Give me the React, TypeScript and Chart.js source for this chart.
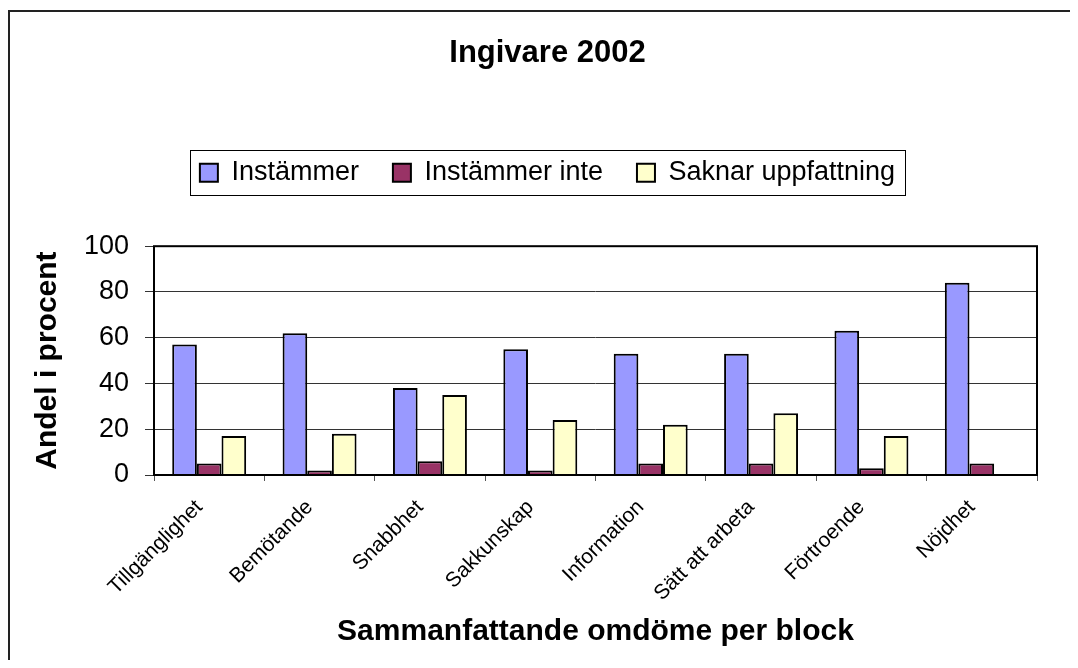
import React, { useEffect, useRef } from "react";
import { Chart, registerables } from "chart.js";

Chart.register(...registerables);

const categories = [
  "Tillgänglighet",
  "Bemötande",
  "Snabbhet",
  "Sakkunskap",
  "Information",
  "Sätt att arbeta",
  "Förtroende",
  "Nöjdhet",
];
const instammer = [57, 62, 38, 55, 53, 53, 63, 84];
const instammerInte = [5, 2, 6, 2, 5, 5, 3, 5];
const saknarUppfattning = [17, 18, 35, 24, 22, 27, 17, null];
const seriesNames = ["Instämmer", "Instämmer inte", "Saknar uppfattning"];
const seriesColors = ["#9999FF", "#993366", "#FFFFCC"];
const yTicks = [0, 20, 40, 60, 80, 100];

const FONT = "'Liberation Sans', Arial, sans-serif";

const framePlugin = {
  id: "frame",
  beforeDraw(chart: any) {
    const { ctx, width, height } = chart;
    ctx.save();
    ctx.fillStyle = "#222";
    ctx.fillRect(0, 2, width, 2);
    ctx.fillRect(0, 2, 2, height - 2);
    ctx.restore();
  },
  afterDatasetsDraw(chart: any) {
    const { ctx, chartArea } = chart;
    ctx.save();
    ctx.strokeStyle = "#000";
    ctx.lineWidth = 2;
    ctx.strokeRect(
      chartArea.left,
      chartArea.top,
      chartArea.right - chartArea.left,
      chartArea.bottom - chartArea.top
    );
    ctx.restore();
  },
  afterDraw(chart: any) {
    const lg = chart.legend;
    if (!lg || !lg.legendHitBoxes || !lg.legendHitBoxes.length) return;
    const hb = lg.legendHitBoxes;
    const first = hb[0];
    const last = hb[hb.length - 1];
    const cy = first.top + first.height / 2;
    const ctx = chart.ctx;
    ctx.save();
    ctx.strokeStyle = "#000";
    ctx.lineWidth = 1;
    const x0 = Math.round(first.left - 10) + 0.5;
    const x1 = Math.round(last.left + last.width + 10) + 0.5;
    const y0 = Math.round(cy - 23) + 0.5;
    const y1 = Math.round(cy + 22) + 0.5;
    ctx.strokeRect(x0, y0, x1 - x0, y1 - y0);
    ctx.restore();
  },
};

export default function App() {
  const ref = useRef<HTMLCanvasElement | null>(null);

  useEffect(() => {
    if (!ref.current) return;
    const data = [instammer, instammerInte, saknarUppfattning];
    const chart = new Chart(ref.current, {
      type: "bar",
      data: {
        labels: categories,
        datasets: seriesNames.map((name, i) => ({
          label: name,
          data: data[i],
          backgroundColor: seriesColors[i],
          borderColor: "#000",
          borderWidth: 2,
          barPercentage: 1,
          categoryPercentage: 0.67,
        })),
      },
      options: {
        responsive: false,
        animation: false,
        events: [],
        layout: { padding: { left: 50, right: 21, top: 0, bottom: 0 } },
        plugins: {
          tooltip: { enabled: false },
          title: {
            display: true,
            text: "Ingivare 2002",
            color: "#000",
            font: { family: FONT, size: 31, weight: "bold", lineHeight: 1.2 },
            padding: { top: 27, bottom: 53 },
          },
          legend: {
            display: true,
            position: "top",
            labels: {
              color: "#000",
              font: { family: FONT, size: 27 },
              boxWidth: 18,
              boxHeight: 18,
              padding: 34,
            },
          },
          subtitle: {
            display: true,
            text: "",
            weight: 500,
            position: "top",
            font: { size: 10, lineHeight: 1 },
            padding: { top: 40, bottom: 0 },
          },
        } as any,
        scales: {
          x: {
            offset: true,
            grid: {
              display: true,
              offset: true,
              drawOnChartArea: false,
              drawTicks: true,
              tickLength: 6,
              color: "#555",
            },
            border: { display: false },
            ticks: {
              autoSkip: false,
              maxRotation: 45,
              minRotation: 45,
              color: "#000",
              font: { family: FONT, size: 21 },
              padding: 14,
              labelOffset: -10,
            },
            title: {
              display: true,
              text: "Sammanfattande omdöme per block",
              color: "#000",
              font: { family: FONT, size: 30, weight: "bold", lineHeight: 1.2 },
              padding: { top: 0, bottom: 10 },
            },
            afterFit: (scale: any) => {
              scale.height = 185;
            },
          },
          y: {
            min: 0,
            max: 100,
            afterBuildTicks: (scale: any) => {
              scale.ticks = yTicks.map((v) => ({ value: v }));
            },
            grid: {
              color: "#333",
              lineWidth: 1,
              drawTicks: true,
              tickLength: 9,
            },
            border: { display: false },
            ticks: {
              color: "#000",
              font: { family: FONT, size: 27 },
              padding: 16,
            },
            title: {
              display: true,
              text: "Andel i procent",
              color: "#000",
              font: { family: FONT, size: 30, weight: "bold", lineHeight: 1.2 },
              padding: { top: -28, bottom: 0 },
            },
            afterFit: (scale: any) => {
              scale.width = 96;
            },
          },
        },
      },
      plugins: [framePlugin],
    });
    return () => chart.destroy();
  }, []);

  return (
    <div style={{ position: "relative", width: 1050, height: 652 }}>
      <canvas
        ref={ref}
        width={1050}
        height={652}
        style={{ display: "block", width: 1050, height: 652 }}
      />
      <div
        style={{
          position: "absolute",
          left: 0,
          top: 2,
          width: 1050,
          height: 2,
          background: "#222",
          boxShadow: "24px 0 0 #222",
        }}
      />
    </div>
  );
}
